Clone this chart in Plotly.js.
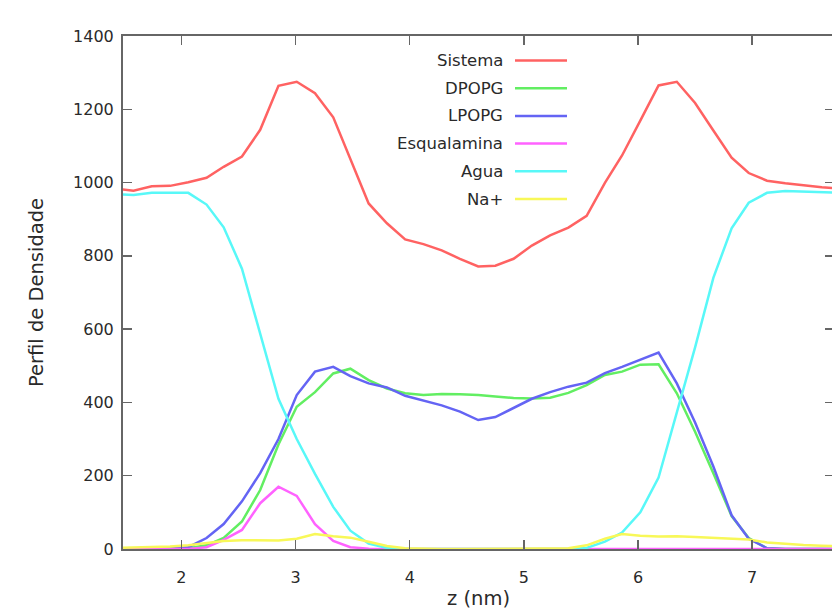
<!DOCTYPE html>
<html>
<head>
<meta charset="utf-8">
<script src="https://cdn.plot.ly/plotly-3.0.1.min.js"></script>
<style>
html, body { margin: 0; padding: 0; overflow: hidden; background: #fff; }
#wrap { width: 832px; height: 612px; overflow: hidden; }
#chart { width: 836px; height: 612px; }
</style>
</head>
<body>
<div id="wrap"><div id="chart"></div></div>
<script>
// z positions (nm)
const z = [1.42,1.58,1.74,1.90,2.06,2.22,2.37,2.53,2.69,2.85,3.01,3.17,3.33,3.48,3.64,3.80,3.96,4.12,4.28,4.44,4.60,4.75,4.91,5.07,5.23,5.39,5.55,5.71,5.86,6.02,6.18,6.34,6.50,6.66,6.82,6.97,7.13,7.29,7.45,7.61,7.77];

const sistema = [983,978,990,991,1001,1013,1043,1071,1144,1264,1275,1244,1178,1062,943,889,845,832,815,792,771,773,792,828,856,877,909,999,1074,1169,1265,1275,1217,1142,1068,1026,1005,998,992,987,984];
const dpopg = [0,0,0,0,2,10,30,75,161,285,388,428,479,492,461,438,425,420,423,422,420,416,412,411,413,426,447,475,484,503,504,425,320,207,90,30,2,0,0,0,0];
const lpopg = [0,0,0,1,5,30,68,130,207,300,420,484,497,472,452,441,418,405,392,375,352,360,385,410,428,443,454,480,497,516,536,452,345,225,92,28,2,0,0,0,0];
const esqualamina = [0,0,0,0,0,5,25,52,125,170,145,68,22,5,1,0,0,0,0,0,0,0,0,0,0,0,0,0,0,0,0,0,0,0,0,0,0,0,0,0,0];
const agua = [968,966,972,973,972,940,878,765,590,410,300,205,115,50,15,3,0,0,0,0,0,0,0,0,0,0,3,20,45,100,195,373,550,740,875,945,972,977,976,974,972];
const na = [3,4,5,7,10,16,22,24,24,23,28,41,35,31,20,8,2,0,0,0,0,0,0,0,0,2,10,28,41,36,34,35,33,31,29,26,18,14,11,9,8];

const seriesNames = ["Sistema","DPOPG","LPOPG","Esqualamina","Agua","Na+"];
const seriesValues = [sistema, dpopg, lpopg, esqualamina, agua, na];
const seriesColors = ["#ff6262","#62ee62","#6464f4","#ff62ff","#58f8f8","#f8f858"];

const xTicks = [2,3,4,5,6,7];
const yTicks = [0,200,400,600,800,1000,1200,1400];

const traces = seriesNames.map((n, i) => ({
  x: z, y: seriesValues[i], type: "scatter", mode: "lines", name: n,
  line: {color: seriesColors[i], width: 2.5},
  showlegend: false, hoverinfo: "skip"
}));

// legend drawn manually (gnuplot style: text right-aligned, sample on the right)
const plotL = 123, plotR = 834, plotT = 36, plotB = 549;
const px2x = p => (p - plotL) / (plotR - plotL);
const py2y = p => (plotB - p) / (plotB - plotT);
const legTextRight = 505, legLine0 = 515, legLine1 = 567, legTop = 60.5, legStep = 27.7;

const annotations = [];
const shapes = [];
seriesNames.forEach((n, i) => {
  const yy = py2y(legTop + i * legStep);
  annotations.push({
    xref: "paper", yref: "paper", x: px2x(legTextRight), y: yy,
    xanchor: "right", yanchor: "middle", showarrow: false, text: n,
    font: {family: "DejaVu Sans", size: 16.5, color: "#2a2a2a"}
  });
  shapes.push({
    type: "line", xref: "paper", yref: "paper",
    x0: px2x(legLine0), x1: px2x(legLine1), y0: yy, y1: yy,
    line: {color: seriesColors[i], width: 2.5}
  });
});

const axisCommon = {
  showline: true, mirror: "allticks", linecolor: "#666", linewidth: 2,
  ticks: "inside", ticklen: 9, tickwidth: 1.5, tickcolor: "#666",
  showgrid: false, zeroline: false,
  tickfont: {family: "DejaVu Sans", size: 16, color: "#2a2a2a"}
};

const layout = {
  width: 836, height: 612,
  margin: {l: plotL, r: 836 - plotR, t: plotT, b: 612 - plotB},
  paper_bgcolor: "#fff", plot_bgcolor: "#fff",
  xaxis: Object.assign({}, axisCommon, {
    range: [1.488, 7.717], tickvals: xTicks, ticktext: xTicks.map(String),
    ticklabelstandoff: 13,
    title: {text: "z (nm)", font: {family: "DejaVu Sans", size: 19.5, color: "#2a2a2a"}, standoff: 5}
  }),
  yaxis: Object.assign({}, axisCommon, {
    range: [0, 1400], tickvals: yTicks, ticktext: yTicks.map(String),
    ticklabelstandoff: 4,
    title: {text: "Perfil de Densidade", font: {family: "DejaVu Sans", size: 19.5, color: "#2a2a2a"}, standoff: 24}
  }),
  annotations: annotations,
  shapes: shapes
};

Plotly.newPlot("chart", traces, layout, {displayModeBar: false, staticPlot: true});
</script>
</body>
</html>
